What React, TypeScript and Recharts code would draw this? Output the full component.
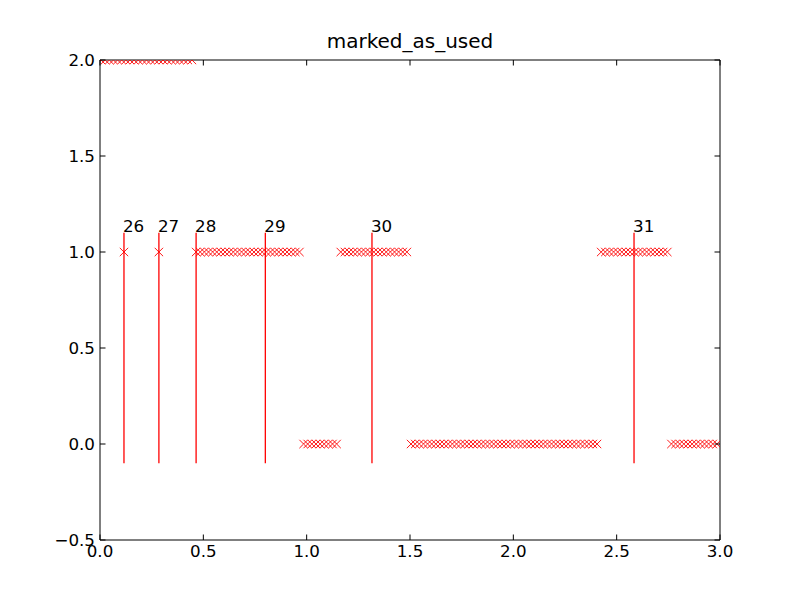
import { ScatterChart, Scatter, XAxis, YAxis, ReferenceLine } from 'recharts';

const FONT = '"DejaVu Sans", sans-serif';
const RED = '#ff0000';
const TICK = 5.5;
const PLOT = { left: 100, right: 720, top: 60, bottom: 540 };

const xTicks = [0, 0.5, 1, 1.5, 2, 2.5, 3];
const yTicks = [-0.5, 0, 0.5, 1, 1.5, 2];

// x positions of the markers on each level
const level2X = [
  0.005, 0.025, 0.045, 0.065, 0.085, 0.105, 0.125, 0.145, 0.165, 0.185, 0.205, 0.225,
  0.245, 0.265, 0.285, 0.305, 0.325, 0.345, 0.365, 0.385, 0.405, 0.425, 0.445,
];
const level1X = [
  0.116, 0.285,
  0.465, 0.485, 0.505, 0.525, 0.545, 0.565, 0.585, 0.605, 0.625, 0.645, 0.665, 0.685,
  0.705, 0.725, 0.745, 0.765, 0.785, 0.805, 0.825, 0.845, 0.865, 0.885, 0.905, 0.925,
  0.945, 0.965,
  1.165, 1.185, 1.205, 1.225, 1.245, 1.265, 1.285, 1.305, 1.325, 1.345, 1.365, 1.385,
  1.405, 1.425, 1.445, 1.465, 1.485,
  2.425, 2.445, 2.465, 2.485, 2.505, 2.525, 2.545, 2.565, 2.585, 2.605, 2.625, 2.645,
  2.665, 2.685, 2.705, 2.725, 2.745,
];
const level0X = [
  0.985, 1.005, 1.025, 1.045, 1.065, 1.085, 1.105, 1.125, 1.145,
  1.505, 1.525, 1.545, 1.565, 1.585, 1.605, 1.625, 1.645, 1.665, 1.685, 1.705, 1.725,
  1.745, 1.765, 1.785, 1.805, 1.825, 1.845, 1.865, 1.885, 1.905, 1.925, 1.945, 1.965,
  1.985, 2.005, 2.025, 2.045, 2.065, 2.085, 2.105, 2.125, 2.145, 2.165, 2.185, 2.205,
  2.225, 2.245, 2.265, 2.285, 2.305, 2.325, 2.345, 2.365, 2.385, 2.405,
  2.765, 2.785, 2.805, 2.825, 2.845, 2.865, 2.885, 2.905, 2.925, 2.945, 2.965, 2.985,
];

const markLineX = [0.116, 0.285, 0.465, 0.8, 1.316, 2.584];
const markLineLabels = ['26', '27', '28', '29', '30', '31'];
const markLineLow = -0.1;
const markLineHigh = 1.1;

const points = [
  ...level2X.map(x => ({ x, y: 2 })),
  ...level1X.map(x => ({ x, y: 1 })),
  ...level0X.map(x => ({ x, y: 0 })),
];

const fmt = (v: number) => (v < 0 ? '\u2212' + Math.abs(v).toFixed(1) : v.toFixed(1));

// eslint-disable-next-line @typescript-eslint/no-explicit-any
function Cross(props: any) {
  const { cx, cy } = props;
  const r = 4.2;
  const arms = [[-1, -1], [1, -1], [-1, 1], [1, 1]];
  return (
    <g>
      {arms.map(([dx, dy], i) => {
        // clip each arm to the plot frame, like matplotlib does
        let t = r;
        t = Math.min(t, dx < 0 ? cx - PLOT.left : PLOT.right - cx);
        t = Math.min(t, dy < 0 ? cy - PLOT.top : PLOT.bottom - cy);
        t = Math.max(t, 0);
        return <line key={i} x1={cx} y1={cy} x2={cx + dx * t} y2={cy + dy * t} stroke={RED} strokeWidth={0.9} />;
      })}
    </g>
  );
}

// eslint-disable-next-line @typescript-eslint/no-explicit-any
function BottomTick({ x, y, payload }: any) {
  return (
    <g>
      <line x1={x} x2={x} y1={y} y2={y - TICK} stroke="#000" />
      <text x={x} y={y + 17} textAnchor="middle" fontSize={16.7} fontFamily={FONT} fill="#000">{fmt(payload.value)}</text>
    </g>
  );
}

// eslint-disable-next-line @typescript-eslint/no-explicit-any
function TopTick({ x, y }: any) {
  return <line x1={x} x2={x} y1={y} y2={y + TICK} stroke="#000" />;
}

// eslint-disable-next-line @typescript-eslint/no-explicit-any
function LeftTick({ x, y, payload }: any) {
  return (
    <g>
      <line x1={x} x2={x + TICK} y1={y} y2={y} stroke="#000" />
      <text x={x - 5} y={y + 6} textAnchor="end" fontSize={16.7} fontFamily={FONT} fill="#000">{fmt(payload.value)}</text>
    </g>
  );
}

// eslint-disable-next-line @typescript-eslint/no-explicit-any
function RightTick({ x, y }: any) {
  return <line x1={x} x2={x - TICK} y1={y} y2={y} stroke="#000" />;
}

// eslint-disable-next-line @typescript-eslint/no-explicit-any
function MarkLabel({ viewBox, value }: any) {
  if (!viewBox) return null;
  return (
    <text x={viewBox.x - 1} y={viewBox.y - 1} textAnchor="start" fontSize={16.7} fontFamily={FONT} fill="#000">{value}</text>
  );
}

export default function App() {
  return (
    <div style={{ position: 'absolute', left: 0, top: 0, width: 800, height: 600, background: '#fff' }}>
      <svg width={800} height={600} style={{ position: 'absolute', left: 0, top: 0, pointerEvents: 'none' }}>
        <text x={410} y={48} textAnchor="middle" fontSize={20} fontFamily={FONT} fill="#000">marked_as_used</text>
      </svg>
      <ScatterChart width={800} height={600} margin={{ top: 30, right: 20, bottom: 30, left: 40 }}>
        <XAxis
          dataKey="x" type="number" domain={[0, 3]} ticks={xTicks} allowDataOverflow
          height={30} tickSize={0} tickMargin={0} tick={<BottomTick />}
          axisLine={{ stroke: '#000', strokeWidth: 1 }}
        />
        <XAxis
          xAxisId="top" orientation="top" dataKey="x" type="number" domain={[0, 3]} ticks={xTicks} allowDataOverflow
          height={30} tickSize={0} tickMargin={0} tick={<TopTick />}
          axisLine={{ stroke: '#000', strokeWidth: 1 }}
        />
        <YAxis
          dataKey="y" type="number" domain={[-0.5, 2]} ticks={yTicks} allowDataOverflow
          width={60} tickSize={0} tickMargin={0} tick={<LeftTick />}
          axisLine={{ stroke: '#000', strokeWidth: 1 }}
        />
        <YAxis
          yAxisId="right" orientation="right" dataKey="y" type="number" domain={[-0.5, 2]} ticks={yTicks} allowDataOverflow
          width={60} tickSize={0} tickMargin={0} tick={<RightTick />}
          axisLine={{ stroke: '#000', strokeWidth: 1 }}
        />
        {markLineX.map((x, i) => (
          <ReferenceLine
            key={x}
            segment={[{ x, y: markLineLow }, { x, y: markLineHigh }]}
            stroke={RED}
            strokeWidth={1.3}
            label={<MarkLabel value={markLineLabels[i]} />}
          />
        ))}
        <Scatter data={points} shape={<Cross />} isAnimationActive={false} />
      </ScatterChart>
    </div>
  );
}
